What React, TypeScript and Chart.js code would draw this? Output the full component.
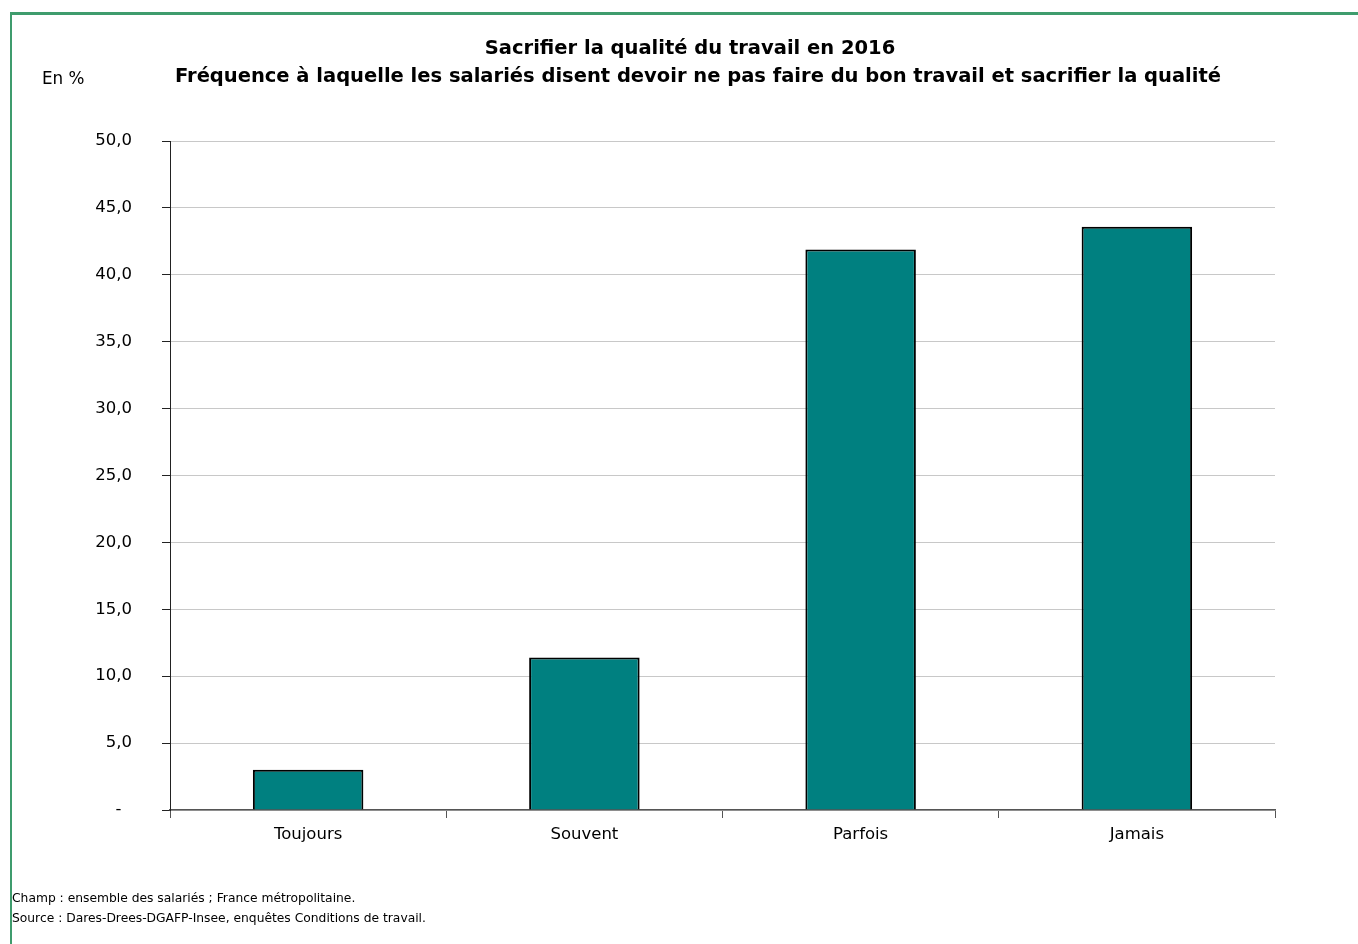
import React, { useEffect, useRef } from "react";
import { Chart, registerables } from "chart.js";

Chart.register(...registerables);

const categories = ["Toujours", "Souvent", "Parfois", "Jamais"];
const values = [3.0, 11.4, 41.9, 43.6];
const yTicks = [0, 5, 10, 15, 20, 25, 30, 35, 40, 45, 50];
const titleLine1 = "Sacrifier la qualité du travail en 2016";
const titleLine2 = "Fréquence à laquelle les salariés disent devoir ne pas faire du bon travail et sacrifier la qualité";
const unitLabel = "En %";
const noteLines = [
  "Champ : ensemble des salariés ; France métropolitaine.",
  "Source : Dares-Drees-DGAFP-Insee, enquêtes Conditions de travail.",
];

const FONT = "'DejaVu Sans', Verdana, sans-serif";

export default function App() {
  const ref = useRef<HTMLCanvasElement | null>(null);

  useEffect(() => {
    document.body.style.margin = "0";
    const canvas = ref.current;
    if (!canvas) return;
    const chart = new Chart(canvas, {
      type: "bar",
      data: {
        labels: categories,
        datasets: [
          {
            data: values,
            backgroundColor: "#008080",
            borderColor: "#000000",
            borderWidth: 2,
            barPercentage: 0.4,
            categoryPercentage: 1,
          },
        ],
      },
      options: {
        responsive: false,
        animation: false,
        devicePixelRatio: 1,
        layout: { padding: { left: 60, top: 141, right: 83, bottom: 84 } },
        plugins: { legend: { display: false }, title: { display: false }, tooltip: { enabled: false } },
        scales: {
          x: {
            offset: true,
            grid: {
              offset: true,
              drawOnChartArea: false,
              tickLength: 8,
              tickColor: "#555555",
            },
            border: { display: true, color: "#555555", width: 1.5 },
            ticks: {
              color: "#000000",
              font: { family: FONT, size: 16.5 },
              padding: 7,
            },
            afterFit: (s: any) => {
              s.height = 50;
            },
          },
          y: {
            min: 0,
            max: 50,
            afterBuildTicks: (s: any) => {
              s.ticks = yTicks.map((v) => ({ value: v }));
            },
            grid: {
              color: "#c8c8c8",
              tickLength: 8,
              tickColor: "#222222",
            },
            border: { display: true, color: "#222222", width: 1 },
            ticks: {
              color: "#000000",
              font: { family: FONT, size: 16.5 },
              padding: 30,
              callback: (v: any) => (Number(v) === 0 ? "-  " : Number(v).toFixed(1).replace(".", ",")),
            },
            afterFit: (s: any) => {
              s.width = 110;
            },
          },
        },
      },
    });
    return () => chart.destroy();
  }, []);

  const titleStyle: React.CSSProperties = {
    position: "absolute",
    lineHeight: "24px",
    fontSize: 19.5,
    fontWeight: "bold",
    textAlign: "center",
    whiteSpace: "nowrap",
  };

  return (
    <div
      style={{
        position: "fixed",
        left: 0,
        top: 0,
        width: 1358,
        height: 944,
        background: "#ffffff",
        fontFamily: FONT,
        color: "#000",
        overflow: "hidden",
      }}
    >
      <div
        style={{
          position: "absolute",
          left: 10,
          top: 12,
          width: 1400,
          height: 1000,
          borderTop: "3px solid #3f9c6d",
          borderLeft: "2px solid #3f9c6d",
        }}
      />
      <canvas ref={ref} width={1358} height={944} style={{ position: "absolute", left: 0, top: 0 }} />
      <div style={{ ...titleStyle, left: 290, width: 800, top: 36 }}>{titleLine1}</div>
      <div style={{ ...titleStyle, left: 98, width: 1200, top: 64 }}>{titleLine2}</div>
      <div style={{ position: "absolute", left: 42, top: 68, fontSize: 16.8, lineHeight: "20px" }}>{unitLabel}</div>
      <div style={{ position: "absolute", left: 12, top: 889, fontSize: 12.3, lineHeight: "19.5px" }}>
        {noteLines.map((l, i) => (
          <div key={i}>{l}</div>
        ))}
      </div>
    </div>
  );
}
